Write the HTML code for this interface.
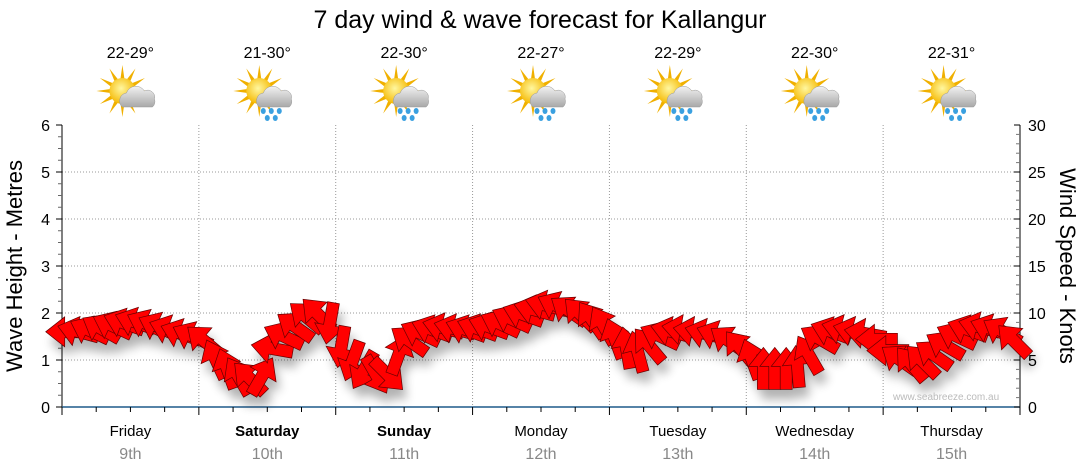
<!DOCTYPE html>
<html><head><meta charset="utf-8"><style>
html,body{margin:0;padding:0;background:#fff;}
svg{display:block;font-family:"Liberation Sans",sans-serif;}
</style></head><body>
<svg id="chart" width="1080" height="475" viewBox="0 0 1080 475">
<defs>
<filter id="sh" x="-50%" y="-50%" width="200%" height="200%"><feGaussianBlur stdDeviation="5"/></filter>
<radialGradient id="sun" cx="45%" cy="40%" r="60%"><stop offset="0" stop-color="#fff7a0"/><stop offset="1" stop-color="#f5b800"/></radialGradient>
<linearGradient id="cl" x1="0" y1="0" x2="0" y2="1"><stop offset="0" stop-color="#f2f2f2"/><stop offset="1" stop-color="#a8a8a8"/></linearGradient>
</defs>
<text x="540" y="28" text-anchor="middle" font-size="25" fill="#000">7 day wind &amp; wave forecast for Kallangur</text>
<g id="grid"></g>
<g id="axes"></g>
<g id="icons"></g>
<g id="shadow" filter="url(#sh)" opacity="0.3"></g>
<g id="arrows"></g>
<text x="893" y="400" font-size="10" fill="#bbb">www.seabreeze.com.au</text>
<text transform="translate(22,266) rotate(-90)" text-anchor="middle" font-size="22" fill="#000">Wave Height - Metres</text>
<text transform="translate(1060,266) rotate(90)" text-anchor="middle" font-size="22" fill="#000">Wind Speed - Knots</text>
</svg>
<script>
const days = ["Friday","Saturday","Sunday","Monday","Tuesday","Wednesday","Thursday"];
const dates = ["9th","10th","11th","12th","13th","14th","15th"];
const temps = ["22-29°","21-30°","22-30°","22-27°","22-29°","22-30°","22-31°"];
const rain = [false,true,true,true,true,true,true];
const boldDays = [false,true,true,false,false,false,false];
const leftTicks = [0,1,2,3,4,5,6];
const rightTicks = [0,5,10,15,20,25,30];
const windSpeed = [
8.0,8.0,8.1,8.3,8.6,8.9,9.0,8.8,8.5,8.2,7.8,7.5,
7.0,5.0,4.0,3.2,3.0,3.2,6.2,7.5,8.5,9.5,9.8,9.0,
6.5,5.0,4.0,3.5,3.5,5.5,7.0,7.8,8.2,8.4,8.3,8.2,
8.3,8.5,8.8,9.3,9.8,10.3,10.8,10.7,10.2,9.8,9.2,8.6,
7.2,6.2,5.8,6.5,7.5,8.0,8.2,8.0,7.8,7.6,7.0,6.2,
5.0,4.0,4.0,4.0,4.2,5.5,7.2,8.0,8.2,8.0,7.8,7.2,
6.0,5.0,4.5,4.8,5.5,6.5,7.5,8.2,8.5,8.3,8.0,7.0];
const windDir = [
180,195,205,210,205,200,200,205,205,200,200,205,
220,245,250,240,225,300,190,205,215,220,225,100,
100,110,120,60,45,290,215,205,200,195,195,200,
200,200,205,205,200,195,195,205,215,225,235,240,
250,260,255,230,205,195,190,190,195,200,215,230,
250,270,270,270,265,240,210,200,195,195,190,180,
180,215,230,225,215,210,205,200,195,200,210,225];

const NS='http://www.w3.org/2000/svg';
const X0=62,X1=1020,Y0=407,Y1=125;
const dayW=(X1-X0)/7;
const yM=v=>Y0-(Y0-Y1)*v/6;
const yK=v=>Y0-(Y0-Y1)*v/30;
const xT=i=>X0+dayW*(i+0.5)/12;
function mk(tag,attrs,parent,txt){const e=document.createElementNS(NS,tag);for(const k in attrs)e.setAttribute(k,attrs[k]);if(txt!==undefined)e.textContent=txt;parent.appendChild(e);return e;}
const grid=document.getElementById('grid'),axes=document.getElementById('axes'),icons=document.getElementById('icons');
for(let v=1;v<=5;v++){const l=mk('line',{x1:X0,x2:X1,y1:yM(v),y2:yM(v),stroke:'#999','stroke-dasharray':'1,2'},grid);

}
for(let d=1;d<7;d++){const x=X0+dayW*d;const l=mk('line',{x1:x,x2:x,y1:Y1,y2:Y0,stroke:'#999','stroke-dasharray':'1,2'},grid);

}
mk('line',{x1:X0,x2:X0,y1:Y1,y2:Y0+3,stroke:'#000'},axes);
mk('line',{x1:X1,x2:X1,y1:Y1,y2:Y0,stroke:'#000'},axes);
mk('line',{x1:X0,x2:X1,y1:Y0,y2:Y0,stroke:'#1f5a8a','stroke-width':1.5},axes);
for(let q=0;q<=24;q++){const y=yM(q/4);mk('line',{x1:X0-(q%4?4:6),x2:X0,y1:y,y2:y,stroke:q%4?'#666':'#000'},axes);}
leftTicks.forEach(v=>{const t=mk('text',{x:X0-12,y:yM(v)+6,'text-anchor':'end','font-size':16,fill:'#000'},axes,v);

});
for(let k=0;k<=30;k++){const y=yK(k);mk('line',{x1:X1-(k%5?4:6),x2:X1,y1:y,y2:y,stroke:k%5?'#777':'#000'},axes);}
rightTicks.forEach(v=>{const t=mk('text',{x:X1+8,y:yK(v)+6,'font-size':16,fill:'#000'},axes,v);

});
for(let q=0;q<=28;q++){const x=X0+dayW*q/4;mk('line',{x1:x,x2:x,y1:Y0,y2:Y0+(q%4?5:8),stroke:'#000'},axes);}
days.forEach((d,i)=>{const cx=X0+dayW*(i+0.5);
const t=mk('text',{x:cx,y:436,'text-anchor':'middle','font-size':15,fill:'#000','font-weight':boldDays[i]?'bold':'normal'},axes,d);


const t2=mk('text',{x:cx,y:459,'text-anchor':'middle','font-size':16,fill:'#888'},axes,dates[i]);


const t3=mk('text',{x:cx,y:58,'text-anchor':'middle','font-size':16,fill:'#000'},icons,temps[i]);


const g=mk('g',{transform:`translate(${cx},95)`},icons);


for(let r=0;r<12;r++){const a=r*30;mk('polygon',{points:'-2,-12 2,-12 0,-26',fill:'#f0b000',transform:`translate(-8,-4) rotate(${a})`},g);}
mk('circle',{cx:-8,cy:-4,r:13,fill:'url(#sun)'},g);
mk('path',{d:'M-8,12 a8,8 0 0 1 4,-14 a10,10 0 0 1 18,-2 a7,7 0 0 1 10,8 a7,7 0 0 1 -2,8 z',fill:'url(#cl)',stroke:'#999','stroke-width':0.5},g);
if(rain[i]){[[-4,16],[4,16],[12,16],[0,23],[8,23]].forEach(p=>mk('ellipse',{cx:p[0],cy:p[1],rx:2.5,ry:3,fill:'#3aa0e0'},g));}
});
const arrows=document.getElementById('arrows'),shadow=document.getElementById('shadow');
const pts='-20,-6 3,-6 3,-15 22,0 3,15 3,6 -20,6';
mk('polyline',{points:windSpeed.map((v,i)=>xT(i)+','+yK(v)).join(' '),fill:'none',stroke:'#888','stroke-width':1},arrows);
windSpeed.forEach((v,i)=>{
mk('polygon',{points:pts,fill:'#000',transform:`translate(${xT(i)+4},${yK(v)+10}) rotate(${windDir[i]})`},shadow);
const a=mk('polygon',{points:pts,fill:'#f00',stroke:'#600','stroke-width':0.7,transform:`translate(${xT(i)},${yK(v)}) rotate(${windDir[i]})`},arrows);


});
</script>
</body></html>
